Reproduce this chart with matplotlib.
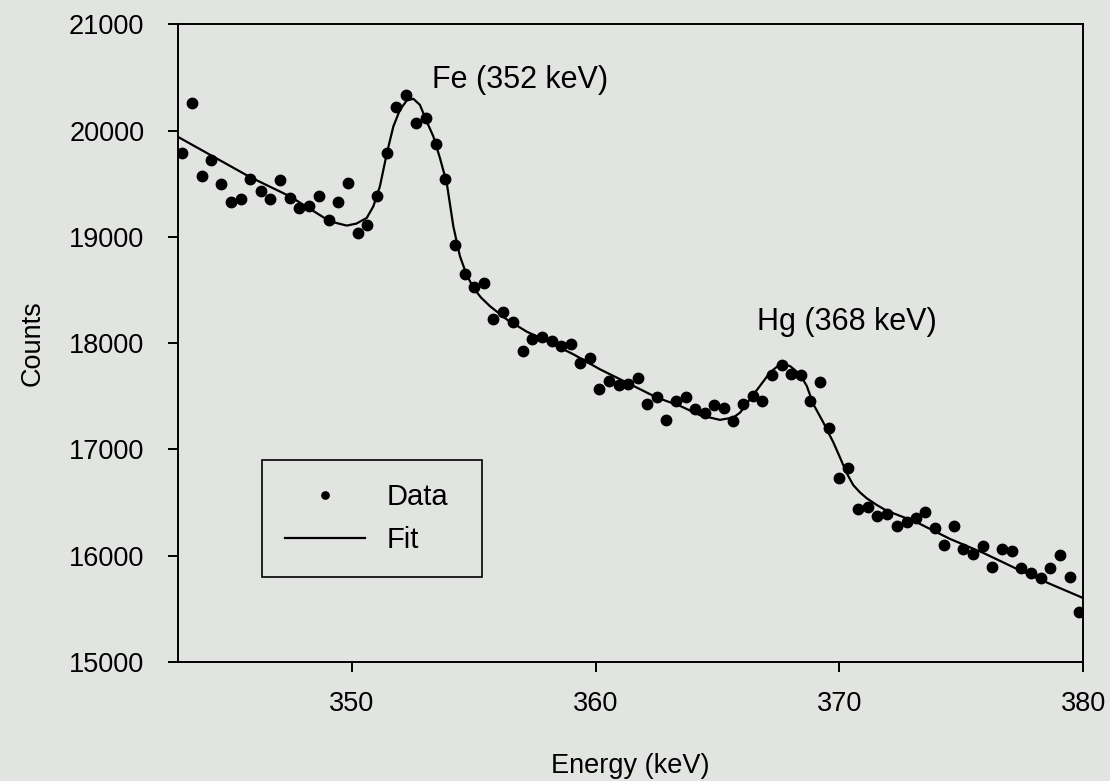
import matplotlib
matplotlib.use("Agg")
import matplotlib.pyplot as plt

plt.rcParams["font.family"] = ["Liberation Sans", "DejaVu Sans"]

BG = "#e2e4e1"

# measured spectrum (keV, counts)
energy = [343.05, 343.44, 343.85, 344.23, 344.64, 345.05, 345.45, 345.83, 346.27, 346.65,
          347.06, 347.47, 347.85, 348.25, 348.66, 349.06, 349.45, 349.84, 350.25, 350.64,
          351.03, 351.44, 351.82, 352.23, 352.64, 353.05, 353.46, 353.84, 354.24, 354.65,
          355.03, 355.42, 355.81, 356.22, 356.63, 357.01, 357.40, 357.79, 358.20, 358.58,
          358.98, 359.36, 359.77, 360.15, 360.56, 360.95, 361.34, 361.73, 362.12, 362.51,
          362.90, 363.30, 363.69, 364.08, 364.49, 364.87, 365.26, 365.65, 366.06, 366.44,
          366.84, 367.22, 367.63, 368.01, 368.41, 368.79, 369.20, 369.57, 369.98, 370.37,
          370.77, 371.17, 371.55, 371.96, 372.35, 372.76, 373.14, 373.52, 373.92, 374.30,
          374.69, 375.08, 375.49, 375.87, 376.26, 376.65, 377.06, 377.44, 377.85, 378.25,
          378.64, 379.05, 379.45, 379.83]
counts = [19789, 20258, 19569, 19726, 19498, 19329, 19357, 19547, 19432, 19360,
          19538, 19369, 19272, 19291, 19385, 19162, 19325, 19507, 19034, 19113,
          19381, 19785, 20226, 20330, 20070, 20114, 19876, 19545, 18923, 18646,
          18524, 18566, 18230, 18296, 18198, 17930, 18038, 18061, 18020, 17973,
          17991, 17810, 17864, 17566, 17644, 17606, 17616, 17674, 17432, 17497,
          17275, 17453, 17497, 17378, 17347, 17419, 17385, 17263, 17425, 17503,
          17456, 17698, 17798, 17707, 17698, 17453, 17635, 17200, 16730, 16829,
          16439, 16458, 16376, 16390, 16282, 16320, 16352, 16408, 16258, 16101,
          16282, 16061, 16014, 16092, 15892, 16061, 16045, 15882, 15836, 15791,
          15882, 16010, 15804, 15466]

# fitted curve (two peaks on a stepped background)
fit_energy = [342.87, 345.83, 347.47, 349.11, 349.80, 350.20, 350.62, 350.89, 351.16, 351.44,
              351.71, 351.98, 352.26, 352.53, 352.80, 353.08, 353.35, 353.62, 353.90, 354.17,
              354.44, 354.71, 354.99, 355.30, 355.67, 356.36, 357.18, 358.13, 359.09, 360.18,
              361.28, 362.51, 363.47, 364.28, 365.10, 365.65, 365.93, 366.33, 366.74, 367.15,
              367.56, 367.97, 368.38, 368.66, 368.93, 369.34, 369.75, 370.03, 370.30, 370.57,
              370.84, 371.12, 371.53, 371.94, 373.17, 374.54, 375.90, 377.27, 378.63, 380.00]
fit_counts = [19942, 19563, 19381, 19146, 19106, 19125, 19178, 19287, 19475, 19782,
              20038, 20195, 20283, 20299, 20242, 20085, 19945, 19742, 19507, 19099,
              18818, 18646, 18521, 18430, 18348, 18223, 18108, 18005, 17895, 17754,
              17629, 17488, 17409, 17322, 17278, 17300, 17347, 17472, 17597, 17723,
              17801, 17785, 17707, 17597, 17425, 17253, 17066, 16920, 16775, 16663,
              16596, 16540, 16477, 16423, 16314, 16157, 16026, 15876, 15735, 15601]

peak_labels = ["Fe (352 keV)", "Hg (368 keV)"]
peak_label_pos = [(353.29, 20477), (366.62, 18195)]

fig = plt.figure(figsize=(11.1, 7.81), dpi=100, facecolor=BG)
ax = fig.add_axes([0.1601, 0.1524, 0.8159, 0.8165], facecolor=BG)

ax.plot(energy, counts, "o", color="black", markersize=7.5, label="Data", zorder=3)
ax.plot(fit_energy, fit_counts, "-", color="black", linewidth=1.6, label="Fit", zorder=2)

for txt, (x, y) in zip(peak_labels, peak_label_pos):
    ax.text(x, y, txt, fontsize=22, ha="left", va="center")

ax.set_xlim(342.87, 380)
ax.set_ylim(15000, 21000)
ax.set_xticks([350, 360, 370, 380])
ax.set_yticks(range(15000, 21001, 1000))
ax.tick_params(direction="out", length=7, width=1.4, labelsize=19.5, pad=17,
               top=False, right=False)
ax.tick_params(axis="x", pad=14)
for s in ax.spines.values():
    s.set_linewidth(1.4)

ax.set_xlabel("Energy (keV)", fontsize=19.5, labelpad=26)
ax.set_ylabel("Counts", fontsize=19.5, labelpad=17)

# legend box spans a fixed width inside the axes
leg = ax.legend(loc="upper left", bbox_to_anchor=(0.0928, 0.2168, 0.2436, 0.1),
                mode="expand", fontsize=21, frameon=True, fancybox=False,
                edgecolor="black", facecolor=BG, framealpha=1, borderpad=0.8,
                handlelength=2.74, handletextpad=0.74, labelspacing=0.5,
                markerscale=0.7, borderaxespad=0)
leg.get_frame().set_linewidth(1.2)

fig.savefig("out.png", dpi=100, facecolor=BG)
